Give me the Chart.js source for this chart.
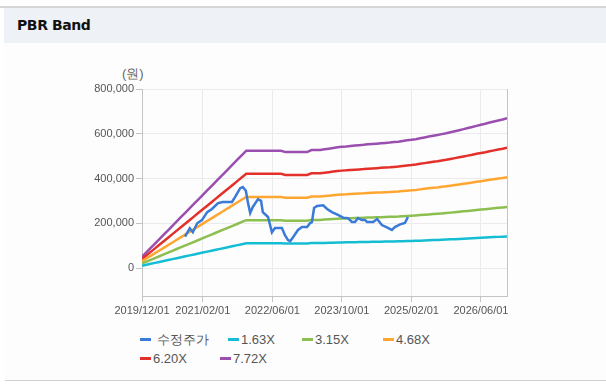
<!DOCTYPE html>
<html>
<head>
<meta charset="utf-8">
<script src="https://cdn.jsdelivr.net/npm/chart.js@4.4.0/dist/chart.umd.min.js"></script>
<style>
  html, body { margin: 0; padding: 0; background: #fff; }
  body { width: 606px; height: 387px; position: relative; overflow: hidden; font-family: "Liberation Sans", Arial, sans-serif; }
  .topline { position: absolute; left: 0; top: 6px; width: 606px; height: 2px; background: #d6d6d6; }
  .head { position: absolute; left: 4px; top: 8px; width: 602px; height: 35px; background: #eef2f7; }
  .head span { position: absolute; left: 13px; top: 9px; font: bold 14px "DejaVu Sans", sans-serif; color: #111; letter-spacing: -0.4px; }
  .body { position: absolute; left: 4px; top: 43px; width: 602px; height: 337px; background: #fdfdfd; }
  .bottomline { position: absolute; left: 5px; top: 380px; width: 601px; height: 1px; background: #d0d0d0; }
  #wrap { position: absolute; left: 0; top: 60px; width: 606px; height: 260px; }
  .unit { position: absolute; left: 122px; top: 65px; font-size: 13px; color: #666; }
  .legend { position: absolute; left: 0; top: 0; }
  .item { position: absolute; font-size: 13px; color: #555; white-space: nowrap; line-height: 16px; }
  .item i { display: inline-block; width: 11px; height: 3px; vertical-align: middle; margin-right: 2px; position: relative; top: -1px; }
</style>
</head>
<body>
<div class="topline"></div>
<div class="head"><span>PBR Band</span></div>
<div class="body"></div>
<div class="bottomline"></div>
<div class="unit">(원)</div>
<div id="wrap"><canvas id="chart"></canvas></div>
<div class="legend" id="legend"></div>
<script>
// month index 0 = 2019/12
var tickMonths = [0, 14, 30, 46, 62, 78];
var tickLabels = ['2019/12/01', '2021/02/01', '2022/06/01', '2023/10/01', '2025/02/01', '2026/06/01'];
var yTicks = [0, 200000, 400000, 600000, 800000];

// BPS per month (2019/12 .. 2026/12)
var bps = [
  6500, 9060, 11620, 14180, 16740, 19300, 21860, 24420, 26980, 29540,
  32100, 34660, 37220, 39780, 42340, 44900, 47460, 50020, 52580, 55140,
  57700, 60260, 62820, 65380, 67900, 67900, 67900, 67900, 67900, 67900,
  67900, 67900, 67900, 67100, 67100, 67100, 67100, 67100, 67100, 68300,
  68300, 68300, 68700, 69100, 69500, 69900, 70200, 70400, 70700, 70900,
  71100, 71300, 71600, 71800, 72000, 72200, 72400, 72600, 72900, 73100,
  73500, 73900, 74200, 74600, 75100, 75600, 76100, 76600, 77000, 77500,
  78000, 78600, 79200, 79800, 80400, 81000, 81600, 82300, 82900, 83500,
  84200, 84800, 85400, 86000, 86700
];

var bandNames = ['1.63X', '3.15X', '4.68X', '6.20X', '7.72X'];
var bandMultiples = [1.63, 3.15, 4.68, 6.20, 7.72];
var bandColors = ['#14bdd3', '#8cbf4f', '#ffa630', '#e3302a', '#9a4fae'];

// 수정주가 (adjusted price), x in months from 2019/12
var priceMonth = [
  9.9, 11.0, 11.7, 12.7, 13.8, 15.0, 16.1, 17.5, 18.6, 20.7,
  21.4, 22.6, 23.2, 23.9, 24.4, 24.9, 25.5, 26.7, 27.4, 27.8,
  29.0, 29.9, 30.6, 32.2, 32.9, 33.6, 34.1, 34.8, 35.9, 36.8,
  38.0, 38.7, 39.1, 39.6, 40.3, 41.7, 42.6, 43.7, 45.1, 46.3,
  47.4, 48.3, 49.0, 49.7, 50.6, 51.3, 51.8, 53.2, 54.1, 55.2,
  56.6, 57.5, 58.2, 59.4, 60.5, 61.2
];
var price = [
  140000, 178000, 160000, 200000, 214000, 250000, 264000, 290000, 295000, 295000,
  317000, 357000, 362000, 345000, 290000, 246000, 273000, 308000, 300000, 250000,
  228000, 160000, 179000, 179000, 147000, 125000, 120000, 139000, 170000, 183000,
  183000, 201000, 205000, 268000, 277000, 280000, 264000, 250000, 237000, 225000,
  223000, 206000, 206000, 223000, 215000, 215000, 206000, 206000, 219000, 192000,
  179000, 170000, 183000, 195000, 201000, 228000
];
var priceName = '수정주가';
var priceColor = '#3a7ad8';

var datasets = [{
  label: priceName,
  data: priceMonth.map(function(m, i){ return { x: m, y: price[i] }; }),
  borderColor: priceColor,
  borderWidth: 2.5,
  pointRadius: 0,
  tension: 0
}];
for (var b = 0; b < bandNames.length; b++) {
  datasets.push({
    label: bandNames[b],
    data: bps.map(function(v, i){ return { x: i, y: Math.round(v * bandMultiples[b]) }; }),
    borderColor: bandColors[b],
    borderWidth: 2.5,
    pointRadius: 0,
    tension: 0
  });
}

// right edge of the plot box
var frameRight = {
  id: 'frameRight',
  afterDraw: function(chart) {
    var a = chart.chartArea, ctx = chart.ctx;
    ctx.save();
    ctx.strokeStyle = '#c4c4c4';
    ctx.lineWidth = 1;
    ctx.beginPath();
    ctx.moveTo(a.right + 0.5, a.top);
    ctx.lineTo(a.right + 0.5, a.bottom);
    ctx.stroke();
    ctx.restore();
  }
};

var chart = new Chart(document.getElementById('chart'), {
  type: 'line',
  data: { datasets: datasets },
  options: {
    responsive: true,
    maintainAspectRatio: false,
    animation: false,
    layout: { padding: { top: 29, right: 99, left: 0, bottom: 0 } },
    plugins: { legend: { display: false }, tooltip: { enabled: false } },
    scales: {
      x: {
        type: 'linear',
        min: 0,
        max: 84,
        afterBuildTicks: function(scale) {
          scale.ticks = tickMonths.map(function(v){ return { value: v }; });
        },
        afterFit: function(scale) { scale.height = 24; },
        ticks: {
          autoSkip: false,
          maxRotation: 0,
          padding: 2,
          color: '#555',
          font: { size: 11, family: '"Liberation Sans", Arial, sans-serif' },
          callback: function(v) { return tickLabels[tickMonths.indexOf(v)]; }
        },
        grid: { color: '#ebebeb', tickColor: '#c4c4c4', tickLength: 6 },
        border: { color: '#c4c4c4' }
      },
      y: {
        min: -125000,
        max: 800000,
        afterBuildTicks: function(scale) {
          scale.ticks = yTicks.map(function(v){ return { value: v }; });
        },
        afterFit: function(scale) { scale.width = 142; },
        ticks: {
          padding: 2,
          color: '#555',
          font: { size: 11, family: '"Liberation Sans", Arial, sans-serif' },
          callback: function(v) { return v.toLocaleString('en-US'); }
        },
        grid: { color: '#ebebeb', tickColor: '#c4c4c4', tickLength: 6 },
        border: { color: '#c4c4c4' }
      }
    }
  },
  plugins: [frameRight]
});

// legend
var legendPos = [[140, 332], [228, 332], [302, 332], [383, 332], [140, 351], [220, 351]];
var legend = document.getElementById('legend');
chart.data.datasets.forEach(function(ds, i) {
  var el = document.createElement('div');
  el.className = 'item';
  el.style.left = legendPos[i][0] + 'px';
  el.style.top = legendPos[i][1] + 'px';
  el.innerHTML = '<i style="background:' + ds.borderColor + '"></i>' + (i === 0 ? ' ' : '') + ds.label;
  legend.appendChild(el);
});
</script>
</body>
</html>
